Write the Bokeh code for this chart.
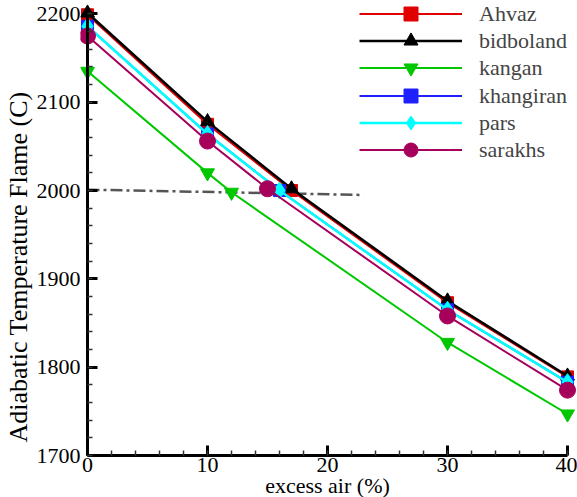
from bokeh.plotting import figure
from bokeh.models import (Range1d, SingleIntervalTicker, Legend, LegendItem,
                          LinearAxis, Title)
from bokeh.embed import file_html
from bokeh.resources import INLINE

# ---- data ----
excess_ahvaz = [0, 10, 17, 30, 40]
temp_ahvaz = [2199, 2075, 2000, 1873, 1789]
excess_bidboland = [0, 10, 17, 30, 40]
temp_bidboland = [2201, 2078, 2002, 1875, 1790]
excess_kangan = [0, 10, 12, 30, 40]
temp_kangan = [2135, 2020, 1998, 1828, 1747]
excess_khangiran = [0, 10, 16, 30, 40]
temp_khangiran = [2186, 2064, 2000, 1865, 1783]
excess_pars = [0, 10, 16, 30, 40]
temp_pars = [2186, 2064, 2000, 1865, 1783]
excess_sarakhs = [0, 10, 15, 30, 40]
temp_sarakhs = [2175, 2056, 2002, 1858, 1774]
ref_excess = [0, 23]
ref_temp = [2001, 1995]

x_ticks_interval = 10
y_ticks_interval = 100

FONT = "Liberation Serif"

p = figure(width=577, height=497, output_backend="svg", toolbar_location=None,
           x_axis_location=None,
           x_range=Range1d(-0.5833, 40.833), y_range=Range1d(1652.45, 2212.9),
           min_border_left=80, min_border_right=0, min_border_top=2,
           min_border_bottom=0)
p.grid.visible = False
p.outline_line_color = None
p.background_fill_color = "white"
p.border_fill_color = "white"

xt = SingleIntervalTicker(interval=x_ticks_interval, num_minor_ticks=5)
yt = SingleIntervalTicker(interval=y_ticks_interval, num_minor_ticks=5)

# y tick labels in the left panel
p.yaxis.ticker = yt
ax = p.yaxis[0]
ax.axis_line_color = None
ax.major_tick_line_color = None
ax.minor_tick_line_color = None
ax.major_tick_in = 0
ax.major_tick_out = 0
ax.minor_tick_in = 0
ax.minor_tick_out = 0
ax.major_label_text_font = FONT
ax.major_label_text_font_size = "22px"
ax.major_label_text_color = "black"
ax.major_label_standoff = 0

common = dict(axis_line_width=3, axis_line_color="black",
              major_tick_in=10, major_tick_out=0,
              minor_tick_in=5, minor_tick_out=0,
              major_tick_line_width=3, minor_tick_line_width=1.5,
              major_tick_line_color="black", minor_tick_line_color="#333333")

# x axis drawn at y = 1700 with its labels and title
xax = LinearAxis(ticker=xt, fixed_location=1700, bounds=(0, 40),
                 axis_label="excess air (%)",
                 major_label_text_font=FONT, major_label_text_font_size="22px",
                 major_label_text_color="black", major_label_standoff=2,
                 axis_label_text_font=FONT, axis_label_text_font_size="22px",
                 axis_label_text_font_style="normal", axis_label_text_color="black",
                 axis_label_standoff=-2, **common)
p.add_layout(xax, "below")

# y axis line + inward ticks at x = 0
yax = LinearAxis(ticker=yt, fixed_location=0, bounds=(1700, 2200),
                 major_label_text_font_size="0px", major_label_standoff=0,
                 major_label_text_alpha=0, **common)
p.add_layout(yax, "left")

# y axis title (larger font, placed from the bottom like the reference)
ytitle = Title(text="Adiabatic Temperature Flame (C)", align="left", offset=55,
               standoff=2, text_font=FONT, text_font_size="26px",
               text_font_style="normal", text_color="black")
p.add_layout(ytitle, "left")

# reference dash-dot line
p.line(ref_excess, ref_temp, line_color="#555555", line_width=2.5, line_dash="12 4 3 4")

series = [
    ("Ahvaz", excess_ahvaz, temp_ahvaz, "#e00000", "square", 12, 2),
    ("bidboland", excess_bidboland, temp_bidboland, "black", "triangle", 14, 2.5),
    ("kangan", excess_kangan, temp_kangan, "#00c800", "inverted_triangle", 14, 2),
    ("khangiran", excess_khangiran, temp_khangiran, "#2020ff", "square", 12, 2),
    ("pars", excess_pars, temp_pars, "#00ffff", "diamond", 17, 2.5),
    ("sarakhs", excess_sarakhs, temp_sarakhs, "#a6005b", "circle", 16, 2),
]

for i, (name, xs, ys, color, marker, size, lw) in enumerate(series):
    lr = p.line(xs, ys, line_color=color, line_width=lw)
    sr = p.scatter(xs, ys, marker=marker, size=size,
                   fill_color=color, line_color=color, line_width=1)
    leg = Legend(items=[LegendItem(label=name, renderers=[lr, sr])],
                 location=(279, round(466.2 - 27.3 * i)),
                 glyph_width=103, glyph_height=35, label_height=20,
                 spacing=0, padding=0, margin=0,
                 border_line_color=None, background_fill_alpha=0,
                 label_text_font=FONT, label_text_font_size="22px",
                 label_standoff=17)
    p.add_layout(leg)

open("out.html", "w").write(file_html(p, INLINE))
